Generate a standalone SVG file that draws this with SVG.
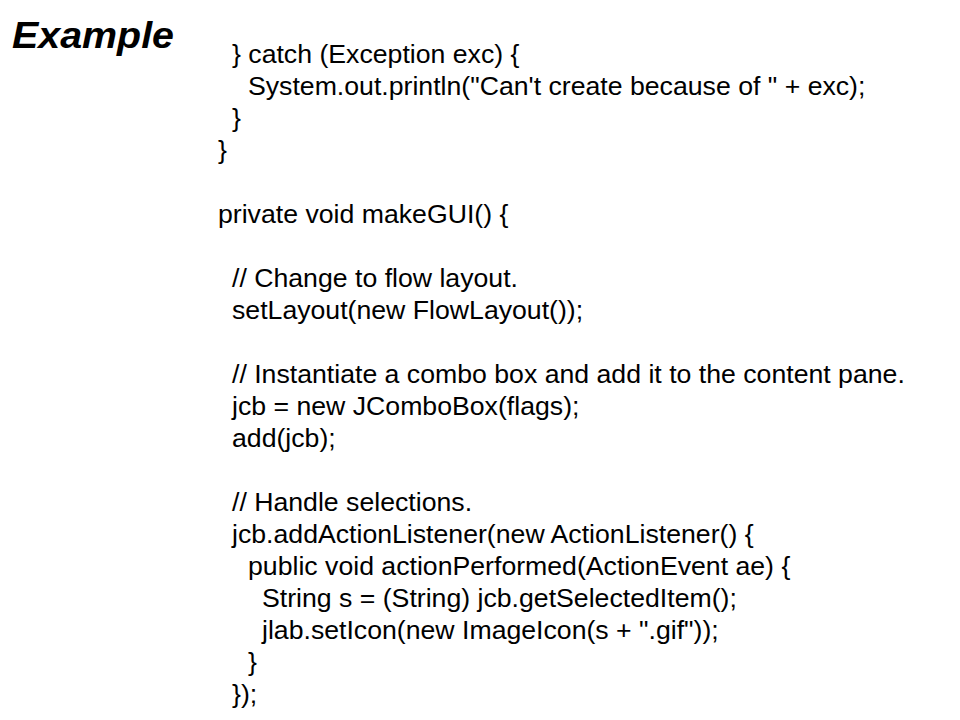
<svg xmlns="http://www.w3.org/2000/svg" width="960" height="720" viewBox="0 0 960 720">
<style>
.title{font-family:"Liberation Sans",Arial,sans-serif;font-weight:bold;font-style:italic;font-size:36px;fill:#000}
.code{font-family:"Liberation Sans",Arial,sans-serif;font-size:26.67px;fill:#000;white-space:pre}
</style>
<rect width="960" height="720" fill="#fff"/>
<g id="title">
<text class="title" x="12" y="48" textLength="162" lengthAdjust="spacingAndGlyphs">Example</text>
</g>
<g id="code">
<text class="code" x="232" y="63">} catch (Exception exc) {</text>
<text class="code" x="248" y="95">System.out.println("Can't create because of " + exc);</text>
<text class="code" x="232" y="127">}</text>
<text class="code" x="218" y="159">}</text>
<text class="code" x="218" y="223">private void makeGUI() {</text>
<text class="code" x="232" y="287">// Change to flow layout.</text>
<text class="code" x="232" y="319">setLayout(new FlowLayout());</text>
<text class="code" x="232" y="383">// Instantiate a combo box and add it to the content pane.</text>
<text class="code" x="232" y="415">jcb = new JComboBox(flags);</text>
<text class="code" x="232" y="447">add(jcb);</text>
<text class="code" x="232" y="511">// Handle selections.</text>
<text class="code" x="232" y="543">jcb.addActionListener(new ActionListener() {</text>
<text class="code" x="248" y="575">public void actionPerformed(ActionEvent ae) {</text>
<text class="code" x="262" y="607">String s = (String) jcb.getSelectedItem();</text>
<text class="code" x="262" y="639">jlab.setIcon(new ImageIcon(s + ".gif"));</text>
<text class="code" x="248" y="671">}</text>
<text class="code" x="232" y="703">});</text>
</g>
</svg>
